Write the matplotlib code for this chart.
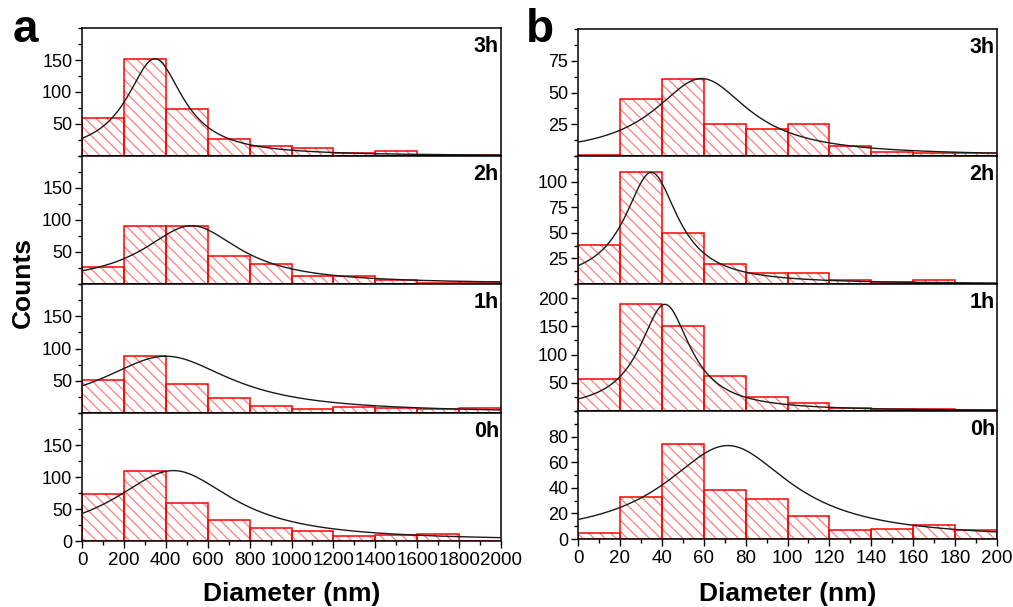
import numpy as np
import matplotlib
matplotlib.use("Agg")
import matplotlib.pyplot as plt
from matplotlib.ticker import MultipleLocator, FixedLocator

plt.rcParams['font.family'] = ['Liberation Sans', 'DejaVu Sans']
plt.rcParams['hatch.linewidth'] = 0.9

# ---------------- data ----------------
times = ["3h", "2h", "1h", "0h"]

left_edges = [0, 200, 400, 600, 800, 1000, 1200, 1400, 1600, 1800, 2000]
left_counts_3h = [60, 152, 73, 26, 15, 12, 5, 8, 2, 1]
left_counts_2h = [27, 90, 91, 43, 31, 12, 12, 6, 1, 3]
left_counts_1h = [51, 89, 45, 23, 11, 6, 9, 8, 6, 8]
left_counts_0h = [73, 110, 59, 33, 20, 16, 8, 9, 11, 0]
# Lorentz fit parameters: centre, half-width, peak height
left_fit_center = [348, 523, 400, 436]
left_fit_halfwidth = [164, 283, 382, 349]
left_fit_peak = [152, 91, 88, 110]
left_ylim = [200, 200, 200, 200]
left_xticks = [0, 200, 400, 600, 800, 1000, 1200, 1400, 1600, 1800, 2000]

right_edges = [0, 20, 40, 60, 80, 100, 120, 140, 160, 180, 200]
right_counts_3h = [1, 45, 61, 25, 21, 25, 8, 3, 2, 2]
right_counts_2h = [38, 109, 50, 20, 11, 11, 4, 2, 4, 0]
right_counts_1h = [56, 189, 151, 62, 24, 14, 6, 4, 3, 1]
right_counts_0h = [5, 33, 74, 38, 31, 18, 7, 8, 11, 7]
right_fit_center = [59, 35, 41.5, 71.5]
right_fit_halfwidth = [27.5, 15.5, 14.8, 36.7]
right_fit_peak = [61, 109, 189, 73]
right_ylim = [100, 125, 225, 100]
right_xticks = [0, 20, 40, 60, 80, 100, 120, 140, 160, 180, 200]

left_yticks = [[50, 100, 150], [50, 100, 150], [50, 100, 150], [0, 50, 100, 150]]
left_yminor = [25, 25, 25, 25]
right_yticks = [[25, 50, 75], [25, 50, 75, 100], [50, 100, 150, 200], [0, 20, 40, 60, 80]]
right_yminor = [12.5, 12.5, 25, 10]

left_counts = [left_counts_3h, left_counts_2h, left_counts_1h, left_counts_0h]
right_counts = [right_counts_3h, right_counts_2h, right_counts_1h, right_counts_0h]

# ---------------- layout ----------------
W, H = 1013, 607
fig = plt.figure(figsize=(W / 100, H / 100), dpi=100)

left_px = (82, 501)
right_px = (578, 997)
rows_left = [(28, 156), (156, 284), (284, 413), (413, 541)]
rows_right = [(29, 156), (156, 284), (284, 411), (411, 539)]


def make_ax(xpx, ypx):
    x0, x1 = xpx
    t, b = ypx
    return fig.add_axes([x0 / W, 1 - b / H, (x1 - x0) / W, (b - t) / H])


def draw_panel(ax, edges, counts, xc, g, pk, ymax, yticks, yminor, label,
               bottom, xticks, xminor):
    edges = np.asarray(edges, float)
    widths = np.diff(edges)
    # hatched fill
    ax.bar(edges[:-1], counts, width=widths, align='edge', color='none',
           edgecolor='#ff7f7f', hatch='\\\\\\', linewidth=0, zorder=1)
    # red outline
    ax.bar(edges[:-1], counts, width=widths, align='edge', fill=False,
           edgecolor='#ff0000', linewidth=1.1, zorder=2)
    xs = np.linspace(edges[0], edges[-1], 600)
    ys = pk / (1 + ((xs - xc) / g) ** 2)
    ax.plot(xs, ys, color='#1a1a1a', lw=1.0, zorder=3)
    ax.set_xlim(edges[0], edges[-1])
    ax.set_ylim(0, ymax)
    ax.yaxis.set_major_locator(FixedLocator(yticks))
    ax.yaxis.set_minor_locator(MultipleLocator(yminor))
    ax.tick_params(axis='y', which='major', direction='out', length=5,
                   width=1, labelsize=13, pad=2)
    ax.tick_params(axis='y', which='minor', direction='out', length=3, width=1)
    for s in ax.spines.values():
        s.set_linewidth(1.1)
        s.set_color('black')
    if bottom:
        ax.xaxis.set_major_locator(FixedLocator(xticks))
        ax.xaxis.set_minor_locator(MultipleLocator(xminor))
        ax.tick_params(axis='x', which='major', direction='out', length=5,
                       width=1, labelsize=13.5, pad=3)
        ax.tick_params(axis='x', which='minor', direction='out', length=3,
                       width=1)
    else:
        ax.set_xticks([])
        ax.xaxis.set_minor_locator(FixedLocator([]))
    ax.text(0.995, 0.94, label, transform=ax.transAxes, ha='right', va='top',
            fontsize=15.5, fontweight='bold')


for i in range(4):
    axl = make_ax(left_px, rows_left[i])
    draw_panel(axl, left_edges, left_counts[i], left_fit_center[i],
               left_fit_halfwidth[i], left_fit_peak[i], left_ylim[i],
               left_yticks[i], left_yminor[i], times[i], i == 3,
               left_xticks, 100)
    axr = make_ax(right_px, rows_right[i])
    draw_panel(axr, right_edges, right_counts[i], right_fit_center[i],
               right_fit_halfwidth[i], right_fit_peak[i], right_ylim[i],
               right_yticks[i], right_yminor[i], times[i], i == 3,
               right_xticks, 10)

fig.text(25 / W, 1 - 30 / H, 'a', fontsize=33, fontweight='bold',
         ha='center', va='center')
fig.text(540 / W, 1 - 30 / H, 'b', fontsize=33, fontweight='bold',
         ha='center', va='center')
fig.text(23 / W, 1 - 282 / H, 'Counts', fontsize=19, fontweight='bold',
         rotation=90, ha='center', va='center')
fig.text(291.5 / W, 1 - 594 / H, 'Diameter (nm)', fontsize=19,
         fontweight='bold', ha='center', va='center')
fig.text(787.5 / W, 1 - 594 / H, 'Diameter (nm)', fontsize=19,
         fontweight='bold', ha='center', va='center')

fig.savefig('out.png', dpi=100)
